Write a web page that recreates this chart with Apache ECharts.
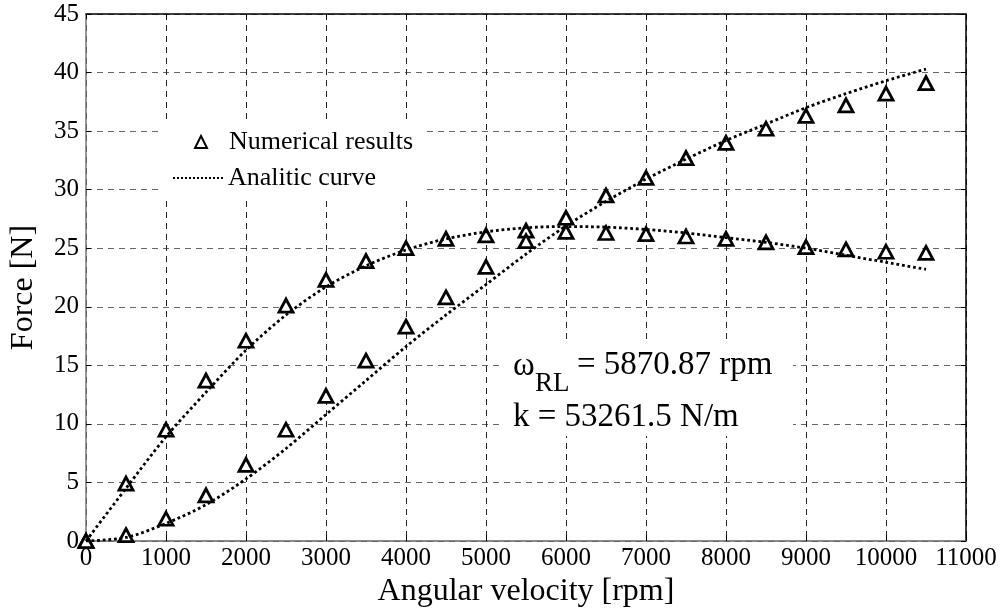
<!DOCTYPE html>
<html>
<head>
<meta charset="utf-8">
<script src="https://cdn.jsdelivr.net/npm/echarts@6/dist/echarts.min.js"></script>
<style>
  html, body { margin: 0; padding: 0; background: #fff; }
  #chart { width: 1003px; height: 614px; }
</style>
</head>
<body>
<div id="chart"></div>
<script>
// Angular velocity [rpm]
const rpm = [0, 500, 1000, 1500, 2000, 2500, 3000, 3500, 4000, 4500, 5000,
             5500, 6000, 6500, 7000, 7500, 8000, 8500, 9000, 9500, 10000, 10500];
// Numerical results (triangles)
const numUpper = [0, 4.9, 9.5, 13.7, 17.1, 20.1, 22.3, 23.9, 25.0, 25.8, 26.1,
                  26.5, 26.4, 26.3, 26.2, 26.0, 25.8, 25.5, 25.1, 24.9, 24.7, 24.6];
const numLower = [0, 0.5, 1.9, 3.9, 6.5, 9.5, 12.4, 15.4, 18.3, 20.8, 23.4,
                  25.6, 27.6, 29.5, 31.0, 32.7, 34.0, 35.2, 36.3, 37.2, 38.2, 39.1];
// Analitic curves (dotted)
const curveUpper = [0, 4.5, 8.9, 12.7, 16.3, 19.3, 21.7, 23.5, 24.85, 25.8, 26.4,
                    26.75, 26.85, 26.8, 26.6, 26.3, 25.9, 25.5, 25.0, 24.4, 23.8, 23.2];
const curveLower = [0, 0.3, 1.5, 3.1, 5.3, 7.9, 10.8, 13.7, 16.6, 19.3, 21.9,
                    24.5, 26.9, 29.0, 30.9, 32.6, 34.2, 35.6, 37.0, 38.2, 39.3, 40.3];
const xTicks = { min: 0, max: 11000, interval: 1000 };
const yTicks = { min: 0, max: 45, interval: 5 };

const FONT = 'Liberation Serif';
const pairs = (ys) => rpm.map((x, i) => [x, ys[i]]);

const chart = echarts.init(document.getElementById('chart'), null, { renderer: 'canvas' });

const scatterStyle = {
  type: 'scatter',
  name: 'Numerical results',
  symbol: 'triangle',
  symbolSize: [14, 13],
  itemStyle: { color: '#fff', borderColor: '#000', borderWidth: 2.8, opacity: 1 },
  z: 3
};
const lineStyle = {
  type: 'line',
  name: 'Analitic curve',
  smooth: 0.3,
  showSymbol: false,
  symbol: 'none',
  lineStyle: { color: '#000', width: 2.8, type: 'dotted' },
  itemStyle: { color: '#000' },
  z: 4
};

chart.setOption({
  animation: false,
  backgroundColor: '#fff',
  grid: { left: 84, right: 37, top: 14, bottom: 73, containLabel: false },
  xAxis: [{
    type: 'value',
    min: xTicks.min, max: xTicks.max, interval: xTicks.interval,
    name: 'Angular velocity [rpm]',
    nameLocation: 'middle',
    nameGap: 33,
    nameTextStyle: { fontFamily: FONT, fontSize: 32, color: '#000' },
    axisLine: { show: true, lineStyle: { color: '#666', width: 1.5 } },
    axisTick: { show: true, inside: true, length: 5, lineStyle: { color: '#000' } },
    axisLabel: { fontFamily: FONT, fontSize: 25, color: '#000', margin: 5,
                 formatter: (v) => String(v) },
    splitLine: { show: true, lineStyle: { color: '#222', width: 1, type: [6, 5] } }
  }, {
    type: 'value', position: 'top',
    min: xTicks.min, max: xTicks.max, interval: xTicks.interval,
    axisLine: { show: true, onZero: false, lineStyle: { color: '#000', width: 1.5 } },
    axisTick: { show: true, inside: true, length: 5, lineStyle: { color: '#000' } },
    axisLabel: { show: false },
    splitLine: { show: false }
  }],
  yAxis: [{
    type: 'value',
    min: yTicks.min, max: yTicks.max, interval: yTicks.interval,
    name: 'Force [N]',
    nameLocation: 'middle',
    nameGap: 46,
    nameTextStyle: { fontFamily: FONT, fontSize: 32, color: '#000', padding: [0, 20, 0, 0] },
    axisLine: { show: true, lineStyle: { color: '#777', width: 1.5 } },
    axisTick: { show: true, inside: true, length: 5, lineStyle: { color: '#000' } },
    axisLabel: { fontFamily: FONT, fontSize: 25, color: '#000', margin: 7 },
    splitLine: { show: true, lineStyle: { color: '#666', width: 1, type: [6, 5] } }
  }, {
    type: 'value', position: 'right',
    min: yTicks.min, max: yTicks.max, interval: yTicks.interval,
    axisLine: { show: true, onZero: false, lineStyle: { color: '#000', width: 1.5 } },
    axisTick: { show: true, inside: true, length: 5, lineStyle: { color: '#000' } },
    axisLabel: { show: false },
    splitLine: { show: false }
  }],
  legend: [{
    orient: 'vertical',
    left: 194, top: 127,
    padding: 0,
    z: 60,
    itemWidth: 12, itemHeight: 12,
    selectedMode: false,
    textStyle: { fontFamily: FONT, fontSize: 26, color: '#000', lineHeight: 30, padding: [0, 0, 0, 17] },
    data: ['Numerical results']
  }, {
    orient: 'vertical',
    left: 172, top: 163,
    padding: 0,
    z: 60,
    itemWidth: 50, itemHeight: 12,
    selectedMode: false,
    textStyle: { fontFamily: FONT, fontSize: 26, color: '#000', lineHeight: 30 },
    data: [{ name: 'Analitic curve', itemStyle: { opacity: 0 } }]
  }],
  graphic: [{
    type: 'group',
    z: 50,
    children: [
      { type: 'rect', shape: { x: 162, y: 120, width: 265, height: 78 },
        style: { fill: '#fff' }, z: 50 },
      { type: 'rect', shape: { x: 503, y: 343, width: 290, height: 93 },
        style: { fill: '#fff' }, z: 50 },
      { type: 'text', x: 513, y: 366, z: 51,
        style: { text: 'ω', font: '33px "Liberation Serif"', fill: '#000', verticalAlign: 'middle' } },
      { type: 'text', x: 535, y: 384, z: 51,
        style: { text: 'RL', font: '27px "Liberation Serif"', fill: '#000', verticalAlign: 'middle' } },
      { type: 'text', x: 577, y: 365, z: 51,
        style: { text: '= 5870.87 rpm', font: '33px "Liberation Serif"', fill: '#000', verticalAlign: 'middle' } },
      { type: 'text', x: 513, y: 417, z: 51,
        style: { text: 'k = 53261.5 N/m', font: '33px "Liberation Serif"', fill: '#000', verticalAlign: 'middle' } }
    ]
  }],
  series: [
    Object.assign({}, scatterStyle, { data: pairs(numUpper) }),
    Object.assign({}, scatterStyle, { data: pairs(numLower) }),
    Object.assign({}, lineStyle, { data: pairs(curveUpper) }),
    Object.assign({}, lineStyle, { data: pairs(curveLower) })
  ]
});
</script>
</body>
</html>
